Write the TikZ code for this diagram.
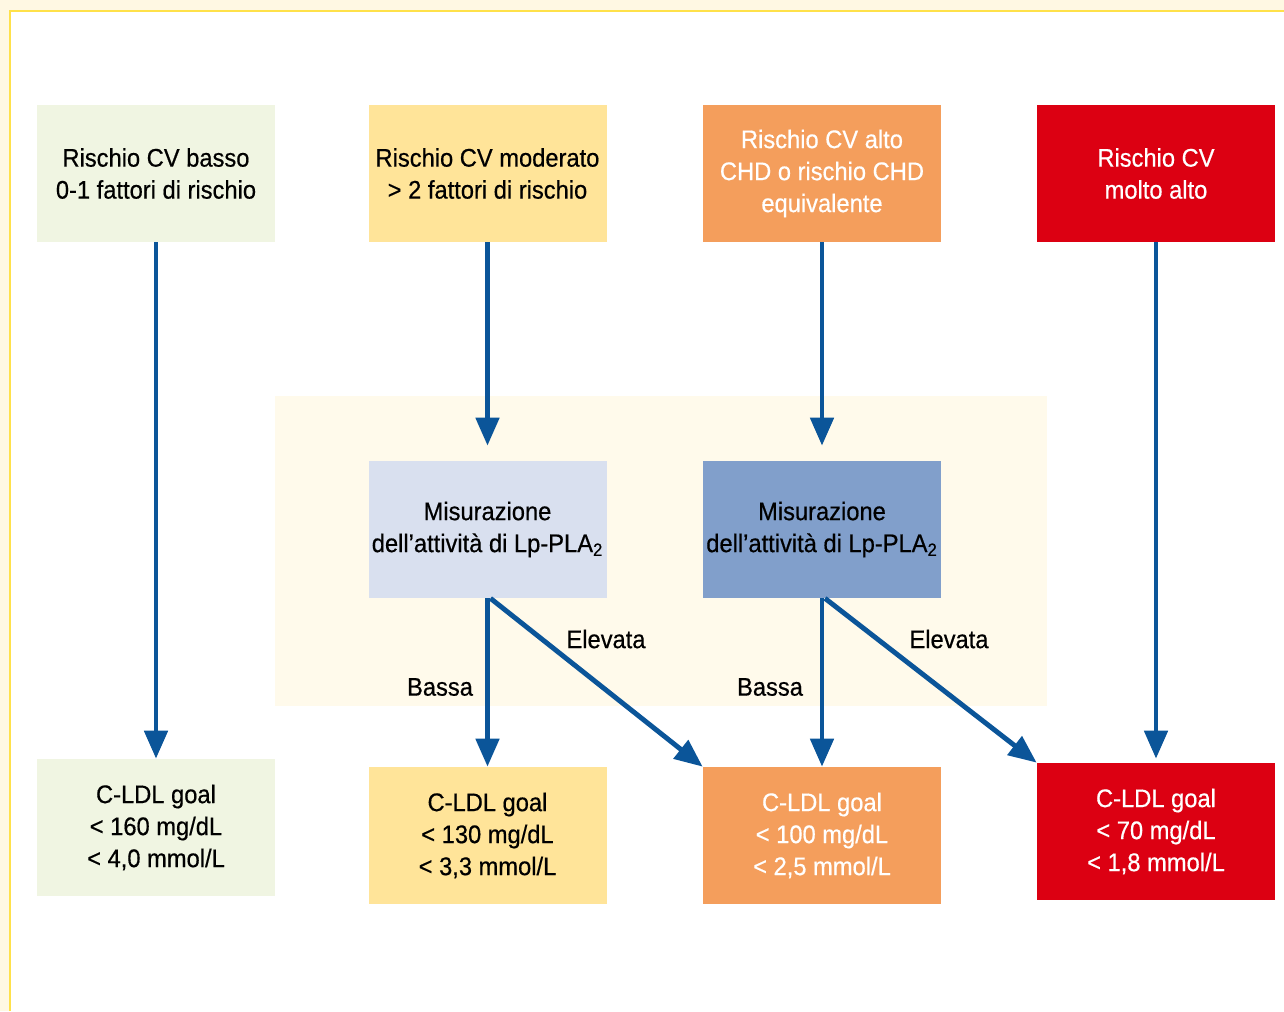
\documentclass[tikz,border=0pt]{standalone}
\usepackage{fontspec}
\setmainfont{Liberation Sans}[FakeStretch=0.93,FakeBold=0.5]
\usepackage{xcolor}
\usepackage{tikz}
\usetikzlibrary{arrows.meta}

\definecolor{riskgreen}{HTML}{F0F5E2}
\definecolor{riskyellow}{HTML}{FFE499}
\definecolor{riskorange}{HTML}{F49E5C}
\definecolor{riskred}{HTML}{DC0012}
\definecolor{measlight}{HTML}{D9E0EF}
\definecolor{measdark}{HTML}{819FCB}
\definecolor{zonecream}{HTML}{FFFAEB}
\definecolor{framecream}{HTML}{FFF8E3}
\definecolor{frameyellow}{HTML}{FFE14A}
\definecolor{arrowblue}{HTML}{0B5599}

\begin{document}
\begin{tikzpicture}[
  box/.style={rectangle,minimum width=4.76cm,minimum height=2.74cm,inner sep=0pt,
    align=center,font=\fontsize{14.5}{18.2}\selectfont},
  lab/.style={inner sep=0pt,font=\fontsize{14.5}{18.2}\selectfont},
  flow/.style={line width=2.8pt,arrowblue,-{Triangle[length=0.56cm,width=0.46cm]}}]
\useasboundingbox (0,0) rectangle (25.68,-20.22);
% frame
\fill[framecream] (0,0) rectangle (25.68,-20.22);
\fill[white] (0.2,-0.22) rectangle (25.68,-20.22);
\draw[frameyellow,line width=1.2pt] (0.2,-20.22) -- (0.2,-0.22) -- (25.68,-0.22);
\fill[zonecream] (5.5,-7.92) rectangle (20.94,-14.12);
% risk levels
\path
(3.12,-3.47) node(r1) [box,fill=riskgreen] {Rischio CV basso\\0-1 fattori di rischio}
(9.75,-3.47) node(r2) [box,fill=riskyellow] {Rischio CV moderato\\> 2 fattori di rischio}
(16.44,-3.47) node(r3) [box,fill=riskorange,text=white] {Rischio CV alto\\CHD o rischio CHD\\equivalente}
(23.12,-3.47) node(r4) [box,fill=riskred,text=white] {Rischio CV\\molto alto};
% Lp-PLA2
\path
(9.75,-10.59) node(m1) [box,fill=measlight] {Misurazione\\dell’attività di Lp-PLA\textsubscript{2}}
(16.44,-10.59) node(m2) [box,fill=measdark] {Misurazione\\dell’attività di Lp-PLA\textsubscript{2}};
% goals
\path
(3.12,-16.55) node(g1) [box,fill=riskgreen] {C-LDL goal\\< 160 mg/dL\\< 4,0 mmol/L}
(9.75,-16.71) node(g2) [box,fill=riskyellow] {C-LDL goal\\< 130 mg/dL\\< 3,3 mmol/L}
(16.44,-16.71) node(g3) [box,fill=riskorange,text=white] {C-LDL goal\\< 100 mg/dL\\< 2,5 mmol/L}
(23.12,-16.63) node(g4) [box,fill=riskred,text=white] {C-LDL goal\\< 70 mg/dL\\< 1,8 mmol/L};
\path
(8.8,-13.74) node(b1) [lab] {Bassa}
(12.12,-12.78) node(e1) [lab] {Elevata}
(15.4,-13.74) node(b2) [lab] {Bassa}
(18.98,-12.78) node(e2) [lab] {Elevata};
\draw[flow] (r1) -- (g1);
\draw[flow,shorten >=0.3cm] (r2) -- (m1);
\draw[flow,shorten >=0.3cm] (r3) -- (m2);
\draw[flow,shorten >=0.08cm] (r4) -- (g4);
\draw[flow] (m1.south) -- (g2);
\draw[flow] ([xshift=0.06cm]m1.south) -- (g3.north west);
\draw[flow] (m2.south) -- (g3);
\draw[flow] ([xshift=0.06cm]m2.south) -- (g4.north west);
\end{tikzpicture}
\end{document}
